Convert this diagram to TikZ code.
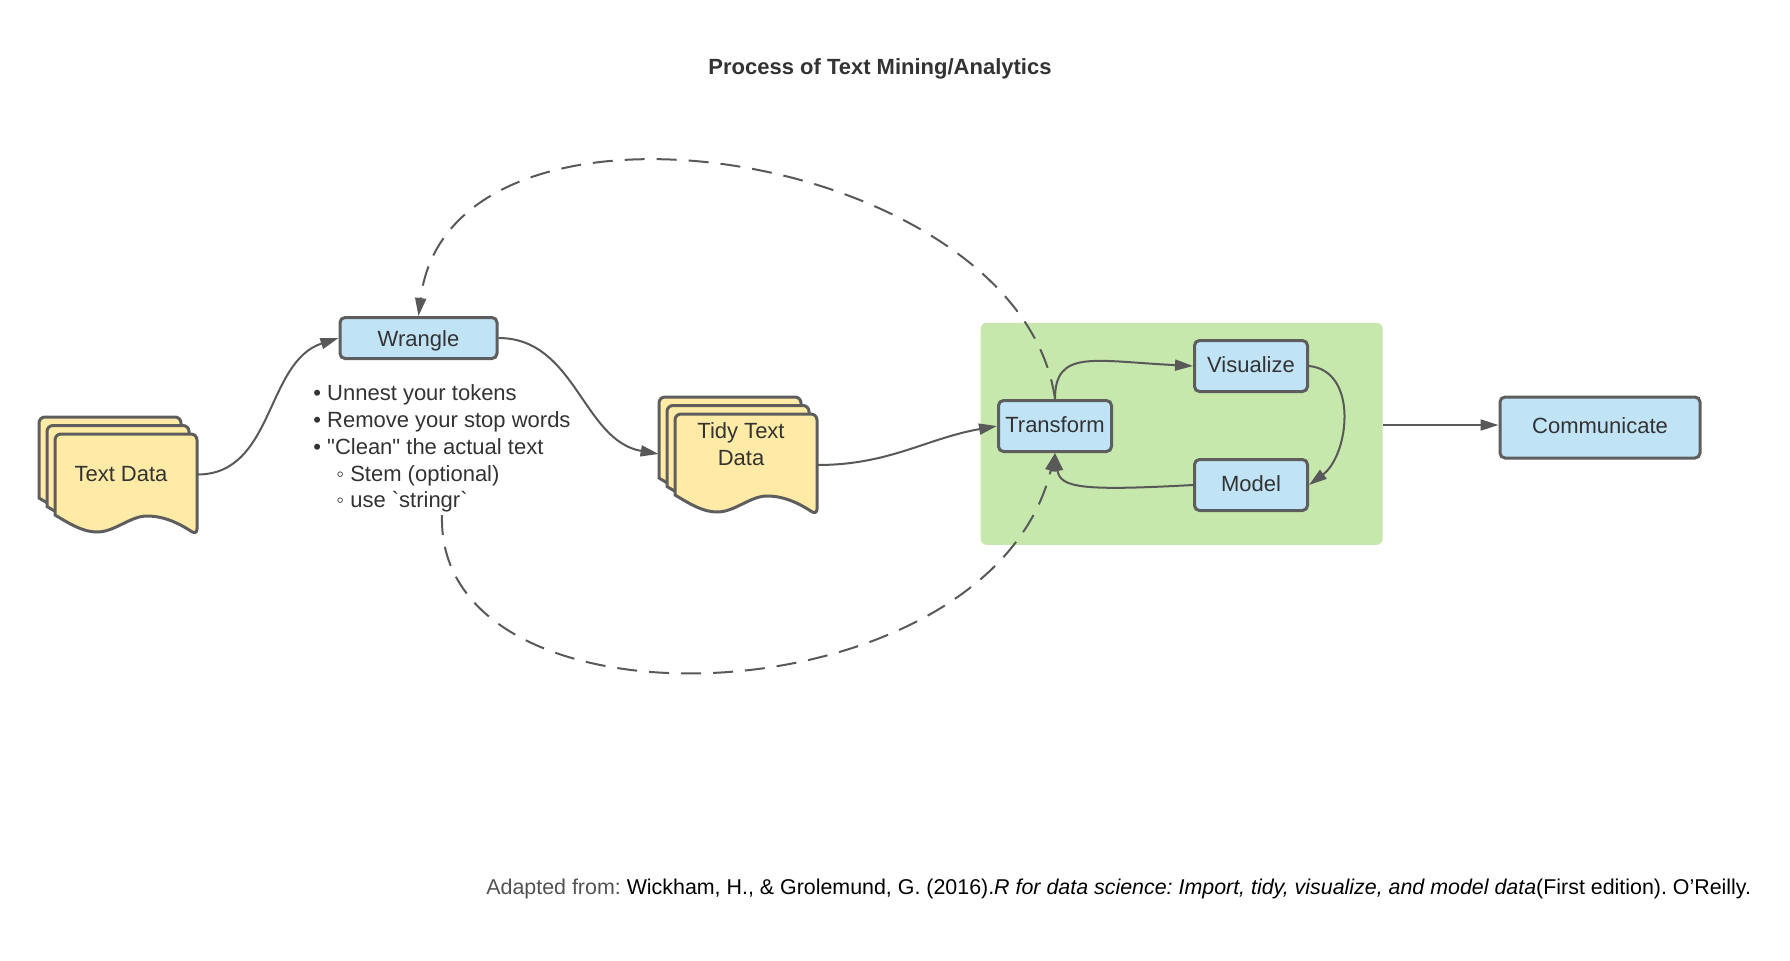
\documentclass[tikz,border=0pt]{standalone}
\usepackage{fontspec}
\setmainfont{Liberation Sans}[Ligatures=TeXOff]
\usetikzlibrary{positioning,arrows.meta,calc}

\definecolor{boxblue}{HTML}{C1E3F6}
\definecolor{docyellow}{HTML}{FFEAA6}
\definecolor{areagreen}{HTML}{C7E8AC}
\definecolor{edgegray}{HTML}{5E5E5E}
\definecolor{linegray}{HTML}{595959}
\definecolor{inkgray}{HTML}{333333}

\tikzset{
  procbox/.style={draw=edgegray, fill=boxblue, line width=1.5pt, rounded corners=2.5pt,
    text=inkgray, minimum width=56.5pt, minimum height=25.5pt, inner sep=0pt,
    text height=6pt, text depth=0pt},
  pagestyle/.style={draw=edgegray, fill=docyellow, line width=1.5pt},
  doclabel/.style={text=inkgray, minimum width=71pt, minimum height=40.5pt, inner sep=0pt, align=center},
  flow/.style={draw=linegray, line width=1pt, -{Triangle[length=9pt,width=5.5pt]}},
  loopback/.style={flow, dash pattern=on 10pt off 6pt},
}

% one sheet of a document stack, top left corner at (#1,#2)
\newcommand{\sheet}[2]{%
  \draw[pagestyle] (#1,#2+81) [rounded corners=3pt] -- (#1,#2) -- (#1+142,#2) -- (#1+142,#2+101) [sharp corners]
    .. controls (#1+125,#2+90) and (#1+110,#2+82) .. (#1+92,#2+82)
    .. controls (#1+75,#2+82) and (#1+60,#2+98) .. (#1+42,#2+98)
    .. controls (#1+28,#2+98) and (#1+15,#2+90) .. cycle;}

\begin{document}
\frenchspacing
\begin{tikzpicture}[x=0.5pt, y=-0.5pt, font=\fontsize{11}{13.45}\selectfont]
  \fill[white] (0,0) rectangle (1790,960);
  \useasboundingbox (0,0) rectangle (1790,960);

  \node[font=\fontsize{11}{13.25}\selectfont\bfseries, text=inkgray] (title) at (880,69) {Process of Text Mining/Analytics};

  % document stacks
  \sheet{39}{417} \sheet{47}{425.5} \sheet{55}{434}
  \sheet{659}{397} \sheet{667}{405.5} \sheet{675}{414}
  \node[doclabel] (rawdata) at (121,474.5) {Text Data};
  \node[doclabel] (tidydata) at (741,444) {Tidy Text\\Data};

  % explore area
  \node[fill=areagreen, rounded corners=3pt, minimum width=201pt, minimum height=111pt, inner sep=0pt] (explore) at (1181.7,433.8) {};

  \node[procbox, minimum width=78.5pt, minimum height=20.5pt, text height=8.5pt] (wrangle) at (418.5,338) {Wrangle};
  \node[procbox] (transform) at (1055,426) {Transform};
  \node[procbox] (visualize) at (1251,366) {Visualize};
  \node[procbox] (model) at (1251,485) {Model};
  \node[procbox, minimum width=100pt, minimum height=30.5pt] (communicate) at (1600,427.5) {Communicate};

  \node[anchor=north west, inner sep=0pt, align=left, text=inkgray] (steps) at (313,384)
    {\textbullet\ Unnest your tokens\\
     \textbullet\ Remove your stop words\\
     \textbullet\ "Clean" the actual text\\
     \hspace*{11.5pt}◦ Stem (optional)\\
     \hspace*{11.5pt}◦ use \textasciigrave stringr\textasciigrave};
  \coordinate (noteend) at (442,515);

  % connectors
  \draw[flow] ([xshift=2.5pt]rawdata.east) to[out=0,in=198] (wrangle.west);
  \draw[flow] (wrangle.east) to[out=0,in=170] ([shift={(-5.5pt,-5pt)}]tidydata.west);
  \draw[flow] ([shift={(2.5pt,-10.5pt)}]tidydata.east) to[out=0,in=190] (transform.west);
  \draw[flow] (transform.north) .. controls +(0,-50) and +(-100,-5) .. (visualize.west);
  \draw[flow] (visualize.east) .. controls +(50,5) and +(40,-30) .. (model.east);
  \draw[flow] (model.west) .. controls +(-110,6) and +(5,35) .. (transform.south);
  \draw[flow] ([yshift=4.4pt]explore.east) -- ([yshift=1.25pt]communicate.west);

  % iteration loops
  \draw[loopback] (transform.north) .. controls (1020,150) and (450,60) .. (wrangle.north);
  \draw[loopback] (noteend) .. controls (435,745) and (990,720) .. (transform.south);

  \node[anchor=west, inner sep=0pt, font=\fontsize{10.7}{13}\selectfont] (source) at (486,889)
    {\textcolor{inkgray!85}{Adapted from:} Wickham, H., \& Grolemund, G. (2016).\textit{R for data science: Import, tidy, visualize, and model data}(First edition). O’Reilly.};
\end{tikzpicture}
\end{document}
